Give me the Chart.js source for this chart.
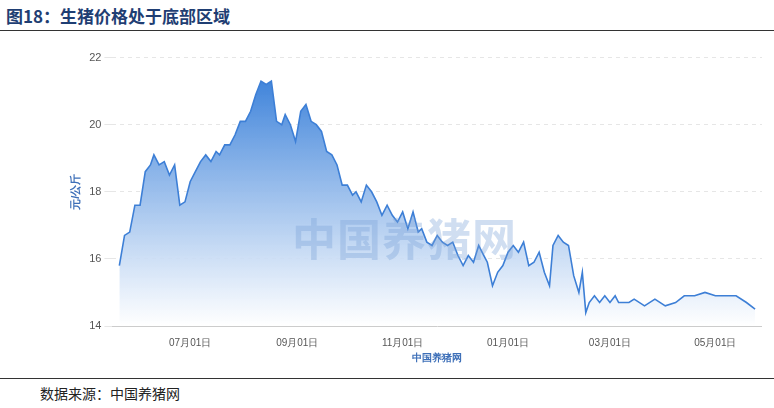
<!DOCTYPE html>
<html><head><meta charset="utf-8">
<script src="https://cdn.jsdelivr.net/npm/chart.js@4/dist/chart.umd.min.js"></script>
<style>
body{margin:0;width:774px;height:408px;background:#fff;font-family:"Noto Sans CJK SC",sans-serif;position:relative;overflow:hidden}
#title{position:absolute;left:6px;top:3px;font-size:17px;font-weight:bold;color:#1f3e73}
#rule1{position:absolute;left:0;top:30px;width:774px;height:1px;background:#333}
#rule2{position:absolute;left:0;top:378px;width:774px;height:1px;background:#333}
#src{position:absolute;left:40px;top:383px;font-size:14px;color:#222}
#wm{position:absolute;left:292px;top:205px;font-size:44px;font-weight:bold;color:rgba(120,160,215,0.35);letter-spacing:1px}
#box{position:absolute;left:65px;top:48px;width:697px;height:316px}
</style></head><body>
<div id="title">图18：生猪价格处于底部区域</div>
<div id="rule1"></div>
<div id="box"><canvas id="c"></canvas></div>
<div id="wm">中国养猪网</div>
<div id="rule2"></div>
<div id="src">数据来源：中国养猪网</div>
<script>
// days since 05-21, price in 元/公斤
var days = [0,3,6,9,12,15,18,20,23,26,29,32,35,38,41,44,47,50,53,56,58,61,64,67,70,73,76,79,82,85,88,91,94,96,99,102,105,108,111,114,117,120,123,126,129,132,135,137,140,143,146,149,152,155,158,161,164,167,170,173,175,178,181,184,187,190,193,196,199,202,205,208,211,213,216,219,222,225,228,231,234,237,240,243,246,249,251,254,257,260,263,266,268,270,272,275,278,281,284,287,289,292,295,298,304,310,316,322,327,333,339,345,351,357,363,368];
var prices = [15.8,16.7,16.8,17.6,17.6,18.6,18.8,19.1,18.8,18.9,18.5,18.8,17.6,17.7,18.3,18.6,18.9,19.1,18.9,19.2,19.1,19.4,19.4,19.7,20.1,20.1,20.4,20.9,21.3,21.2,21.3,20.1,20.0,20.3,20.0,19.5,20.4,20.6,20.1,20.0,19.8,19.2,19.1,18.8,18.2,18.2,17.9,18.0,17.7,18.2,18.0,17.7,17.3,17.6,17.3,17.1,17.4,16.9,17.4,16.8,16.9,16.5,16.4,16.7,16.5,16.4,16.5,16.1,15.8,16.1,15.9,16.4,16.1,15.9,15.2,15.6,15.8,16.2,16.4,16.2,16.5,15.8,15.9,16.2,15.6,15.2,16.4,16.7,16.5,16.4,15.5,15.0,15.6,14.4,14.7,14.9,14.7,14.9,14.7,14.9,14.7,14.7,14.7,14.8,14.6,14.8,14.6,14.7,14.9,14.9,15.0,14.9,14.9,14.9,14.7,14.5];
var tickDays = [41,103,164,225,284,345];
var tickLabels = ['07月01日','09月01日','11月01日','01月01日','03月01日','05月01日'];

var pts = days.map(function(d, i) { return { x: d, y: prices[i] }; });
var ctx = document.getElementById('c');
new Chart(ctx, {
  type: 'line',
  data: { datasets: [{
    data: pts, borderColor: '#3d7fd6', borderWidth: 1.6, pointRadius: 0, tension: 0,
    fill: 'start',
    backgroundColor: function(c) {
      var a = c.chart.chartArea;
      if (!a) return 'rgba(60,130,215,0.5)';
      var g = c.chart.ctx.createLinearGradient(0, a.top, 0, a.bottom);
      g.addColorStop(0, 'rgba(45,120,215,1)');
      g.addColorStop(1, 'rgba(255,255,255,0.9)');
      return g;
    }
  }]},
  options: {
    responsive: true, maintainAspectRatio: false, animation: false,
    plugins: { legend: { display: false }, tooltip: { enabled: false } },
    scales: {
      x: {
        type: 'linear', min: -4, max: 372,
        afterBuildTicks: function(ax) { ax.ticks = tickDays.map(function(v) { return { value: v }; }); },
        ticks: { autoSkip: false, maxRotation: 0, color: '#555', font: { size: 10 },
          callback: function(v) { return tickLabels[tickDays.indexOf(v)]; } },
        grid: { display: false },
        border: { color: '#ccc' },
        title: { display: true, text: '中国养猪网', color: '#3d6fb8', font: { size: 10, weight: 'bold' }, padding: 0 }
      },
      y: {
        min: 14, max: 22,
        ticks: { stepSize: 2, color: '#555', font: { size: 11 } },
        grid: { color: '#e6e6e6', borderDash: [4, 4] },
        border: { display: false, dash: [4, 4] },
        title: { display: true, text: '元/公斤', color: '#3d6fb8', font: { size: 11, weight: 'bold' } }
      }
    }
  }
});
</script>
</body></html>
